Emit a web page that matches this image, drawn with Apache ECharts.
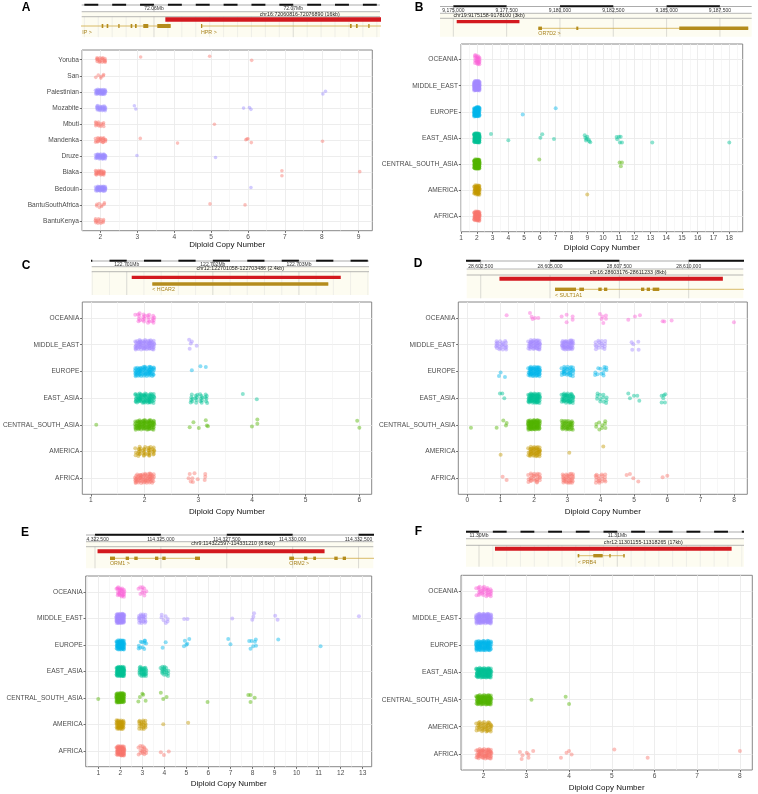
<!DOCTYPE html>
<html><head><meta charset="utf-8">
<script src="https://cdn.jsdelivr.net/npm/echarts@6/dist/echarts.min.js"></script>
<style>html,body{margin:0;padding:0;background:#fff}#c{width:758px;height:794px}</style>
</head><body><div id="c"></div>
<script>
const FONT = "'Liberation Sans', Arial, Helvetica, sans-serif";

// ---------- shared categories / colours ----------
const REGIONS = ['AFRICA','AMERICA','CENTRAL_SOUTH_ASIA','EAST_ASIA','EUROPE','MIDDLE_EAST','OCEANIA'];
const REGION_COLORS = ['#F8766D','#C49A00','#53B400','#00C094','#00B6EB','#A58AFF','#FB61D7'];

// fixed jitter pattern (unit square), used to spread the dense groups
const JITTER_U = [0.255,0.010,0.765,0.520,0.274,0.029,0.784,0.539,0.294,0.049,0.804,0.559,0.313,0.068,0.823,0.578,0.333,0.088,0.843,0.598,0.352,0.107,0.862,0.617,0.372,0.127,0.882,0.637,0.392,0.146,0.901,0.656,0.411,0.166,0.921,0.676,0.431,0.185,0.940,0.695,0.450,0.205,0.960,0.715,0.470,0.224,0.979,0.734,0.489,0.244,0.999,0.754,0.509,0.264,0.018,0.773,0.528,0.283,0.038,0.793,0.548,0.303,0.057,0.812];
const JITTER_V = [0.070,0.640,0.210,0.779,0.349,0.919,0.489,0.059,0.629,0.198,0.768,0.338,0.908,0.478,0.048,0.617,0.187,0.757,0.327,0.897,0.467,0.036,0.606,0.176,0.746,0.316,0.886,0.456,0.025,0.595,0.165,0.735,0.305,0.875,0.444,0.014,0.584,0.154,0.724,0.294,0.863,0.433,0.003,0.573,0.143,0.713,0.282,0.852,0.422,0.992,0.562,0.132,0.702,0.271,0.841,0.411,0.981,0.551,0.121,0.690,0.260,0.830,0.400,0.970];

// ---------- Panel A ----------
const A_categories = ['BantuKenya','BantuSouthAfrica','Bedouin','Biaka','Druze','Mandenka','Mbuti','Mozabite','Palestinian','San','Yoruba'];
const A_colors = ['#F8766D','#F8766D','#9C8CFF','#F8766D','#9C8CFF','#F8766D','#F8766D','#9C8CFF','#9C8CFF','#F8766D','#F8766D'];
const A_xRange = [1.5, 9.37];
const A_xTicks = [2,3,4,5,6,7,8,9];
// [category index, copy number, count]
const A_bulk = [[0,2,14],[1,2,8],[2,2,45],[3,2,24],[4,2,42],[5,2,22],[6,2,14],[7,2,28],[8,2,45],[9,2,6],[10,2,20]];
// [category index, copy number, jitter]
const A_points = [[10,3.09,0.17],[10,4.96,0.21],[10,6.10,-0.04],[8,8.03,-0.12],[8,8.10,0.04],
 [7,2.92,0.14],[7,2.96,-0.06],[7,5.88,0],[7,6.04,0.04],[7,6.08,-0.08],[6,5.09,0],
 [5,3.08,0.12],[5,4.09,-0.17],[5,5.94,0.04],[5,5.97,0.08],[5,6.0,0.1],[5,6.09,-0.14],[5,8.02,-0.06],
 [4,2.99,0.06],[4,5.12,-0.06],[3,6.92,0.12],[3,6.92,-0.19],[3,9.03,0.06],[2,6.08,0.08],[1,4.97,0.06],[1,5.92,0]];
const A_trackRange = [72054810, 72076230];
const A_rulerTicks = [[72060000,'72.06Mb'],[72070000,'72.07Mb']];
const A_region = [72060816, 72076890];
const A_regionLabel = 'chr16:72060816-72076890 (16kb)';
const A_genes = [['IP >',72050000,72061199],['HPR >',72063375,72080000]];
const A_exons = [[0,72056245,72056360],[0,72056604,72056719],[0,72057437,72057509],[0,72058327,72058442],[0,72058636,72058758],[0,72059232,72059591],[0,72060237,72061199],[1,72063375,72063440],[1,72074073,72074195],[1,72074504,72074626],[1,72075387,72075459]];

// ---------- Panel B ----------
const B_xRange = [1.0, 18.85];
const B_xTicks = [1,2,3,4,5,6,7,8,9,10,11,12,13,14,15,16,17,18];
const B_bulk = [[6,2,22],[5,2,90],[4,2,70],[3,2,90],[2,2,90],[1,2,45],[0,2,60]];
const B_points = [[4,4.91,-0.10],[4,7.0,0.14],
 [3,2.90,0.15],[3,4.0,-0.09],[3,6.03,0],[3,6.15,0.14],[3,6.89,-0.04],[3,8.84,0.10],[3,8.88,0.0],[3,8.96,-0.04],[3,9.0,0.04],[3,9.09,-0.06],[3,9.13,-0.13],[3,9.19,-0.17],[3,8.92,-0.1],
 [3,10.86,0.03],[3,10.9,-0.05],[3,11.01,0.04],[3,11.12,0.04],[3,11.07,-0.18],[3,11.2,-0.18],[3,13.12,-0.18],[3,18.0,-0.18],
 [2,5.96,0.17],[2,11.05,0.05],[2,11.2,0.05],[2,11.13,-0.09],[1,9.0,-0.17]];
const B_trackRange = [9174375, 9188990];
const B_rulerTicks = [[9175000,'9,175,000'],[9177500,'9,177,500'],[9180000,'9,180,000'],[9182500,'9,182,500'],[9185000,'9,185,000'],[9187500,'9,187,500']];
const B_region = [9175158, 9178100];
const B_regionLabel = 'chr19:9175158-9178100 (3kb)';
const B_genes = [['OR7D2 >',9178984,9188828]];
const B_exons = [[0,9178984,9179156],[0,9180766,9180860],[0,9185594,9188828]];

// ---------- Panel C ----------
const C_xRange = [0.84, 6.23];
const C_xTicks = [1,2,3,4,5,6];
const C_bulk = [[6,2,25],[5,2,70],[4,2,70],[3,2,70],[3,3,25],[2,2,90],[1,2,40],[0,2,60]];
const C_points = [[5,2.83,0.19],[5,2.88,0.12],[5,2.86,0.05],[5,2.97,-0.04],[5,2.84,-0.15],
 [4,2.88,0.04],[4,3.04,0.19],[4,3.14,0.17],[3,3.83,0.16],[3,4.09,-0.04],
 [2,1.10,0],[2,2.91,0.1],[2,2.84,-0.09],[2,3.14,0.17],[2,3.01,-0.12],[2,3.16,-0.02],[2,3.18,-0.05],[2,4.0,-0.06],[2,4.1,0.2],[2,4.1,0.04],[2,5.96,0.15],[2,6.0,-0.11],
 [0,2.84,0.16],[0,2.89,0],[0,2.82,0.0],[0,2.93,0.19],[0,2.86,-0.12],[0,2.9,-0.14],[0,2.99,-0.04],[0,3.13,0.16],[0,3.12,-0.06],[0,3.13,0.06]];
const C_trackRange = [122700593, 122703814];
const C_rulerTicks = [[122701000,'122.701Mb'],[122702000,'122.702Mb'],[122703000,'122.703Mb']];
const C_region = [122701058, 122703486];
const C_regionLabel = 'chr12:122701058-122703486 (2.4kb)';
const C_genes = [['< HCAR2',122701297,122703341]];
const C_exons = [[0,122701297,122703341]];

// ---------- Panel D ----------
const D_xRange = [-0.27, 8.4];
const D_xTicks = [0,1,2,3,4,5,6,7,8];
const D_bulk = [[5,1,22],[5,2,45],[5,3,45],[5,4,16],[4,2,55],[4,3,30],[4,4,12],[3,2,65],[3,3,45],[3,4,12],[2,2,85],[2,3,40],[2,4,9],[1,2,45],[0,2,25],[0,3,30],[0,4,18]];
const D_points = [[6,1.18,0.1],[6,1.88,0.19],[6,1.93,0.05],[6,2.03,0],[6,2.13,0],[6,1.96,-0.04],[6,2.83,0.06],[6,2.98,0.12],[6,3.16,0.06],[6,2.98,-0.16],[6,3.16,-0.06],
 [6,3.98,0.15],[6,4.06,0.06],[6,4.16,0.09],[6,4.03,-0.04],[6,4.08,-0.19],[6,4.16,-0.03],[6,4.83,-0.06],[6,5.03,0.06],[6,5.18,0.1],[6,5.86,-0.12],[6,5.91,-0.13],[6,6.13,-0.09],[6,8.0,-0.16],
 [5,4.93,0.09],[5,4.95,-0.19],[5,5.13,0.11],[5,5.14,-0.19],[5,4.98,0.02],
 [4,1.0,-0.04],[4,0.95,-0.17],[4,1.13,-0.21],
 [3,0.98,0.17],[3,1.05,0.17],[3,1.11,0],[3,4.83,0.17],[3,4.88,0],[3,5.0,0.09],[3,5.1,0.09],[3,5.16,-0.1],[3,5.83,0.09],[3,5.9,0.11],[3,5.94,0.15],[3,5.83,-0.16],[3,5.93,-0.16],[3,5.88,0],
 [2,0.11,-0.11],[2,0.88,-0.11],[2,1.08,0.16],[2,1.18,0.07],[2,1.16,-0.02],
 [1,1.0,-0.12],[1,3.06,-0.04],[1,4.08,0.19],
 [0,1.06,0.06],[0,1.18,-0.06],[0,4.78,0.12],[0,4.88,0.16],[0,4.98,0],[0,5.13,-0.12],[0,5.86,0.04],[0,6.0,0.09]];
const D_trackRange = [28601995, 28611970];
const D_rulerTicks = [[28602500,'28,602,500'],[28605000,'28,605,000'],[28607500,'28,607,500'],[28610000,'28,610,000']];
const D_region = [28603176, 28611233];
const D_regionLabel = 'chr16:28603176-28611233 (8kb)';
const D_genes = [['< SULT1A1',28605179,28615000]];
const D_exons = [[0,28605179,28605937],[0,28606056,28606225],[0,28606741,28606863],[0,28606946,28607065],[0,28608280,28608400],[0,28608486,28608605],[0,28608702,28608940]];

// ---------- Panel E ----------
const E_xRange = [0.43, 13.41];
const E_xTicks = [1,2,3,4,5,6,7,8,9,10,11,12,13];
const E_bulk = [[6,2,25],[6,3,10],[5,2,80],[5,3,20],[5,4,7],[4,2,65],[4,3,10],[3,2,85],[3,3,30],[3,4,18],[2,2,85],[1,2,40],[1,3,20],[0,2,65],[0,3,15]];
const E_points = [[5,4.9,-0.02],[5,5.05,-0.02],[5,7.08,0],[5,8.07,0.19],[5,8.04,0.06],[5,7.99,-0.05],[5,9.03,0.1],[5,9.14,-0.05],[5,12.83,0.08],
 [4,3.11,0.15],[4,4.06,0.1],[4,3.92,-0.11],[4,4.93,0.16],[4,5.13,0.22],[4,5.04,0.04],[4,4.89,-0.05],[4,5.0,0.0],[4,6.9,0.22],[4,7.0,0.02],[4,7.85,0.15],[4,7.96,0.15],[4,8.15,0.2],[4,8.11,0.12],[4,8.03,-0.05],[4,7.91,-0.15],[4,8.16,-0.03],[4,9.17,0.2],[4,11.09,-0.05],
 [2,1.0,-0.04],[2,2.89,0.03],[2,3.04,0.12],[2,2.82,-0.14],[2,3.15,-0.11],[2,3.0,0.15],[2,3.84,0.19],[2,3.95,-0.04],[2,4.1,0.03],[2,5.96,-0.16],[2,7.81,0.11],[2,7.91,0.11],[2,8.1,0],[2,7.91,-0.16],
 [1,3.95,0],[1,5.08,0.06],[0,3.84,-0.05],[0,3.98,-0.16],[0,4.2,-0.03]];
const E_trackRange = [114322159, 114333059];
const E_rulerTicks = [[114322500,'114,322,500'],[114325000,'114,325,000'],[114327500,'114,327,500'],[114330000,'114,330,000'],[114332500,'114,332,500']];
const E_region = [114322597, 114331210];
const E_regionLabel = 'chr9:114322597-114331210 (8.6kb)';
const E_genes = [['ORM1 >',114323069,114326484],['ORM2 >',114329872,114336000]];
const E_exons = [[0,114323069,114323259],[0,114323665,114323790],[0,114323991,114324120],[0,114324776,114324902],[0,114325053,114325182],[0,114326294,114326484],
 [1,114329872,114330050],[1,114330429,114330554],[1,114330782,114330885],[1,114331579,114331708],[1,114331898,114332023]];

// ---------- Panel F ----------
const F_xRange = [1.47, 8.29];
const F_xTicks = [2,3,4,5,6,7,8];
const F_bulk = [[6,2,30],[5,2,90],[4,2,90],[3,2,100],[2,2,90],[1,2,40],[0,2,60]];
const F_points = [[2,3.12,0],[2,3.92,0.11],[2,4.0,-0.16],
 [0,2.85,0.07],[0,2.91,-0.05],[0,2.89,-0.19],[0,3.01,0.04],[0,3.05,-0.03],[0,3.05,-0.15],[0,3.16,0.1],[0,3.81,-0.15],[0,3.94,0.04],[0,4.0,0.1],[0,4.06,-0.03],[0,5.06,0.16],[0,5.84,-0.15],[0,8.0,0.1]];
const F_trackRange = [11299060, 11319160];
const F_rulerTicks = [[11300000,'11.30Mb'],[11310000,'11.31Mb']];
const F_region = [11301155, 11318265];
const F_regionLabel = 'chr12:11301155-11318265 (17kb)';
const F_genes = [['< PRB4',11307136,11310534]];
const F_exons = [[0,11307136,11307252],[0,11308264,11308944],[0,11309421,11309522],[0,11310433,11310534]];

// ---------- layout (pixels) ----------
const PANELS = [
 {letter:'A', lp:[26,7.5], plot:[82,50,290.3,180.7], gap:10, sym:3.6, jx:0.14, jy:0.16,
  cats:A_categories, colors:A_colors, xr:A_xRange, xt:A_xTicks, bulk:A_bulk, pts:A_points,
  tr:{rect:[81.7,3,298.3,34.5], range:A_trackRange, ticks:A_rulerTicks, step:1000, evenBlack:false, region:A_region, label:A_regionLabel, chrShift:22.5, genes:A_genes, exons:A_exons,
   rows:{ruler:5, tick:9, line1:11.7, chr:14.3, line2:16.7, red:[17.3,21.7], gene:26, exonH:4, geneLabel:32.7, bottom:37.3}}},
 {letter:'B', lp:[419,7.5], plot:[461,44,281.7,187.7], gap:12.5, sym:4, jx:0.18, jy:0.18,
  cats:REGIONS, colors:REGION_COLORS, xr:B_xRange, xt:B_xTicks, bulk:B_bulk, pts:B_points,
  tr:{rect:[440,4,311.7,33], range:B_trackRange, ticks:B_rulerTicks, step:2500, evenBlack:true, region:B_region, label:B_regionLabel, chrShift:1, genes:B_genes, exons:B_exons,
   rows:{ruler:6.5, tick:11, line1:13.3, chr:15.7, line2:18.3, red:[20,23.3], gene:28.3, exonH:3.4, geneLabel:33.3, bottom:36.7}}},
 {letter:'C', lp:[26,265.5], plot:[82.3,302,289.4,192.3], gap:13, sym:4, jx:0.18, jy:0.18,
  cats:REGIONS, colors:REGION_COLORS, xr:C_xRange, xt:C_xTicks, bulk:C_bulk, pts:C_points,
  tr:{rect:[91.7,259,277.3,36], range:C_trackRange, ticks:C_rulerTicks, step:200, evenBlack:true, region:C_region, label:C_regionLabel, chrShift:4, genes:C_genes, exons:C_exons,
   rows:{ruler:261, tick:265, line1:266.7, chr:269, line2:271.7, red:[275.7,279], gene:284, exonH:3.4, geneLabel:290, bottom:295}}},
 {letter:'D', lp:[418,263.5], plot:[458.3,302,289,192.3], gap:13, sym:4, jx:0.18, jy:0.18,
  cats:REGIONS, colors:REGION_COLORS, xr:D_xRange, xt:D_xTicks, bulk:D_bulk, pts:D_points,
  tr:{rect:[466.7,259,276.6,40], range:D_trackRange, ticks:D_rulerTicks, step:2500, evenBlack:true, region:D_region, label:D_regionLabel, chrShift:17, genes:D_genes, exons:D_exons,
   rows:{ruler:261, tick:266.5, line1:269, chr:272.5, line2:275, red:[276.7,280.7], gene:289.3, exonH:3.4, geneLabel:295.7, bottom:298.3}}},
 {letter:'E', lp:[25,533], plot:[85.7,576,286,190.7], gap:13.5, sym:4, jx:0.18, jy:0.18,
  cats:REGIONS, colors:REGION_COLORS, xr:E_xRange, xt:E_xTicks, bulk:E_bulk, pts:E_points,
  tr:{rect:[86,533,287.3,36], range:E_trackRange, ticks:E_rulerTicks, step:2500, evenBlack:false, region:E_region, label:E_regionLabel, chrShift:22, genes:E_genes, exons:E_exons,
   rows:{ruler:535, tick:540, line1:541.7, chr:544, line2:546.7, red:[549.3,553.3], gene:558.3, exonH:3.4, geneLabel:564, bottom:568.3}}},
 {letter:'F', lp:[418.5,531.5], plot:[461,575.3,291.3,194.7], gap:14, sym:4, jx:0.18, jy:0.18,
  cats:REGIONS, colors:REGION_COLORS, xr:F_xRange, xt:F_xTicks, bulk:F_bulk, pts:F_points,
  tr:{rect:[466,530,278,37], range:F_trackRange, ticks:F_rulerTicks, step:1000, evenBlack:false, region:F_region, label:F_regionLabel, chrShift:30, genes:F_genes, exons:F_exons,
   rows:{ruler:532, tick:535.7, line1:538.7, chr:542.5, line2:545.3, red:[546.7,550.7], gene:555.7, exonH:3.4, geneLabel:562.3, bottom:566.7}}}
];

// categories sit at 1..n on the value axis
function buildPoints(p) {
  const out = [];
  p.bulk.forEach(([c, ctr, n], k) => {
    const off = (k * 17 + c * 5) % 64;
    for (let i = 0; i < n; i++) {
      const j = i + off, idx = j % 64, pass = Math.floor(j / 64);
      let u = JITTER_U[idx], v = JITTER_V[idx];
      if (pass % 2 === 1) u = 1 - u;
      out.push({value: [ctr + (u - 0.5) * 2 * p.jx, c + 1 + (v - 0.5) * 2 * p.jy], itemStyle: {color: p.colors[c]}});
    }
  });
  p.pts.forEach(([c, x, dy]) => out.push({value: [x, c + 1 + dy], itemStyle: {color: p.colors[c]}}));
  return out;
}

function trackRender(t) {
  return function (params, api) {
    const X = bp => api.coord([bp, 0])[0];
    const L = t.rect[0], R = t.rect[0] + t.rect[2], r = t.rows;
    const ch = [];
    ch.push({type:'rect', shape:{x:L, y:r.line1, width:R - L, height:r.bottom - r.line1}, style:{fill:'#fdfcf1'}});
    const st = t.step;
    const majors = t.ticks.map(d => d[0]);
    for (let b = Math.ceil(t.range[0] / st) * st; b <= t.range[1]; b += st) {
      const isMajor = majors.indexOf(b) >= 0;
      ch.push({type:'line', shape:{x1:X(b), y1:r.line2, x2:X(b), y2:r.bottom}, style:{stroke:isMajor ? '#d2d2cc' : '#ebebe4', lineWidth:0.8}});
    }
    ch.push({type:'line', shape:{x1:L, y1:r.ruler, x2:R, y2:r.ruler}, style:{stroke:'#888', lineWidth:0.7}});
    for (let b = Math.floor(t.range[0] / st) * st; b < t.range[1]; b += st) {
      const j = Math.round(b / st);
      if ((j % 2 === 0) === t.evenBlack) {
        ch.push({type:'rect', shape:{x:X(b), y:r.ruler - 1.3, width:X(b + st) - X(b), height:2}, style:{fill:'#111'}});
      }
    }
    t.ticks.forEach(([b, lab]) => {
      ch.push({type:'line', shape:{x1:X(b), y1:r.ruler, x2:X(b), y2:r.line1}, style:{stroke:'#999', lineWidth:0.6}});
      ch.push({type:'text', x:X(b), y:r.tick, style:{text:lab, fontSize:5, fontFamily:FONT, fill:'#333', align:'center', verticalAlign:'middle'}});
    });
    ch.push({type:'line', shape:{x1:L, y1:r.line1, x2:R, y2:r.line1}, style:{stroke:'#9a9a9a', lineWidth:0.7}});
    const cx = (X(t.region[0]) + X(t.region[1])) / 2 + t.chrShift;
    ch.push({type:'text', x:cx, y:r.chr, style:{text:t.label, fontSize:5.3, fontFamily:FONT, fill:'#222', align:'center', verticalAlign:'middle'}});
    ch.push({type:'line', shape:{x1:L, y1:r.line2, x2:R, y2:r.line2}, style:{stroke:'#9a9a9a', lineWidth:0.7}});
    ch.push({type:'rect', shape:{x:X(t.region[0]), y:r.red[0], width:X(t.region[1]) - X(t.region[0]), height:r.red[1] - r.red[0]}, style:{fill:'#d3191f'}});
    t.genes.forEach(([lab, s, e]) => {
      ch.push({type:'line', shape:{x1:X(s), y1:r.gene, x2:X(e), y2:r.gene}, style:{stroke:'#cfab45', lineWidth:0.8}});
      ch.push({type:'text', x:Math.max(X(s), L + 0.5), y:r.geneLabel, style:{text:lab, fontSize:5.3, fontFamily:FONT, fill:'#a8821c', align:'left', verticalAlign:'middle'}});
    });
    t.exons.forEach(([g, s, e]) => {
      const x1 = X(s), w = Math.max(X(e) - x1, 1.3);
      ch.push({type:'rect', shape:{x:x1, y:r.gene - r.exonH / 2, width:w, height:r.exonH}, style:{fill:'#b48c1c'}});
    });
    return {type:'group', children:ch};
  };
}

const grids = [], xAxes = [], yAxes = [], series = [], graphics = [];
const AX_TEXT = {fontSize:6.6, color:'#4d4d4d', fontFamily:FONT};
PANELS.forEach((p, k) => {
  const gPlot = grids.length;
  grids.push({left:p.plot[0], top:p.plot[1], width:p.plot[2], height:p.plot[3], show:true, borderColor:'#7a7a7a', borderWidth:0.9, backgroundColor:'#fff', containLabel:false});
  const minor = [];
  for (let v = Math.ceil(p.xr[0] * 2) / 2; v <= p.xr[1]; v += 0.5) if (v % 1 !== 0) minor.push(v);
  const xMain = xAxes.length;
  xAxes.push({gridIndex:gPlot, type:'value', min:p.xr[0], max:p.xr[1], position:'bottom',
    axisLine:{show:false, onZero:false}, axisTick:{show:true, length:2.2, lineStyle:{color:'#333', width:0.7}, customValues:p.xt},
    axisLabel:Object.assign({customValues:p.xt, margin:2.6}, AX_TEXT),
    splitLine:{show:true, lineStyle:{color:'#ebebeb', width:0.9}},
    name:'Diploid Copy Number', nameLocation:'middle', nameGap:p.gap, nameTextStyle:{fontSize:8, color:'#111', fontFamily:FONT}});
  xAxes.push({gridIndex:gPlot, type:'value', min:p.xr[0], max:p.xr[1], position:'top',
    axisLine:{show:false, onZero:false}, axisTick:{show:false, customValues:minor}, axisLabel:{show:false, customValues:minor},
    splitLine:{show:true, lineStyle:{color:'#f2f2f2', width:0.6}}, z:0});
  const idx = p.cats.map((_, i) => i + 1);
  const yMain = yAxes.length;
  yAxes.push({gridIndex:gPlot, type:'value', min:0.4, max:p.cats.length + 0.6, position:'left',
    axisLine:{show:false, onZero:false}, axisTick:{show:true, length:2.2, lineStyle:{color:'#333', width:0.7}, customValues:idx},
    axisLabel:Object.assign({customValues:idx, margin:3, formatter:v => p.cats[Math.round(v) - 1]}, AX_TEXT),
    splitLine:{show:true, lineStyle:{color:'#ebebeb', width:0.9}}});
  series.push({type:'scatter', xAxisIndex:xMain, yAxisIndex:yMain, data:buildPoints(p), symbolSize:p.sym,
    itemStyle:{opacity:0.45}, silent:true, animation:false, z:3});

  // genome track
  const gTr = grids.length;
  grids.push({left:p.tr.rect[0], top:p.tr.rect[1], width:p.tr.rect[2], height:p.tr.rect[3], show:false});
  const xT = xAxes.length;
  xAxes.push({gridIndex:gTr, type:'value', min:p.tr.range[0], max:p.tr.range[1], show:false});
  const yT = yAxes.length;
  yAxes.push({gridIndex:gTr, type:'value', min:0, max:1, show:false});
  series.push({type:'custom', xAxisIndex:xT, yAxisIndex:yT, data:[[p.tr.range[0], 0]], clip:true, silent:true, animation:false,
    renderItem:trackRender(p.tr)});

  graphics.push({type:'text', x:p.lp[0], y:p.lp[1], style:{text:p.letter, font:'bold 12px ' + FONT, fill:'#000', align:'center', verticalAlign:'middle'}});
});

const chart = echarts.init(document.getElementById('c'), null, {renderer:'canvas'});
chart.setOption({
  animation:false,
  backgroundColor:'#fff',
  textStyle:{fontFamily:FONT},
  grid:grids, xAxis:xAxes, yAxis:yAxes, series:series, graphic:graphics
});
</script>
</body></html>
